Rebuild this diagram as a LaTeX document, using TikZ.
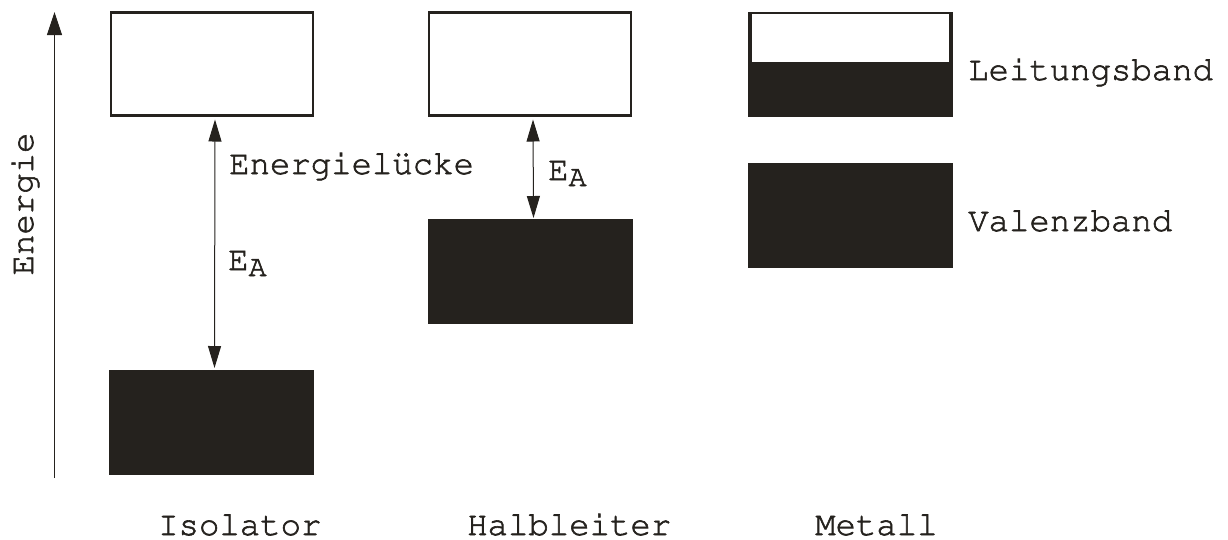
\documentclass[tikz,border=0pt]{standalone}
\usepackage[T1]{fontenc}
\usepackage{courier}
\usetikzlibrary{arrows.meta}
\definecolor{ink}{RGB}{37,34,30}
% slightly heavier glyphs: fill and stroke the outlines
\newcommand{\heavy}[1]{\special{pdf:literal 2 Tr 0.6 w}#1\special{pdf:literal 0 Tr}}
\begin{document}
\begin{tikzpicture}[x=1pt,y=-1pt,
  band/.style={draw=ink, line width=2.2pt, minimum width=202pt, minimum height=103pt,
    inner sep=0pt, outer sep=0pt},
  empty/.style={band, fill=white},
  full/.style={band, fill=ink, line width=0.6pt, minimum width=204pt, minimum height=104pt},
  lbl/.style={font=\ttfamily\fontsize{34}{40}\selectfont, text=ink, inner sep=0pt, anchor=base west},
  gap/.style={{Triangle[length=22pt,width=13pt]}-{Triangle[length=22pt,width=13pt]},
    line width=1pt, draw=ink}]
\useasboundingbox (0,0) rectangle (1228,539);
\newcommand{\sub}[1]{\raisebox{-6pt}{\fontsize{30}{34}\selectfont #1}}

% energy axis
\coordinate (ax0) at (54.5,478);
\coordinate (ax1) at (54.5,12);
\draw[ink, line width=1pt, -{Triangle[length=23pt,width=15pt]}] (ax0) -- (ax1);
\node[lbl, anchor=base, rotate=90] (energie) at (33,204) {\heavy{Energie}};

% insulator
\node[empty] (itop) at (212,64) {};
\node[full]  (ibot) at (211.5,422) {};
\draw[gap] ([xshift=3pt,yshift=-4pt]itop.south) -- ([xshift=3pt,yshift=2pt]ibot.north);
\node[lbl] (gaplbl) at (229,174) {\heavy{Energielücke}};
\node[lbl] (iea) at (228,270) {\heavy{E\sub{A}}};
\node[lbl] (iname) at (158,535) {\heavy{Isolator}};

% semiconductor
\node[empty] (htop) at (530,64) {};
\node[full]  (hbot) at (530.5,271) {};
\draw[gap] ([xshift=3pt,yshift=-4pt]htop.south) -- ([xshift=3pt,yshift=1pt]hbot.north);
\node[lbl] (hea) at (548,180) {\heavy{E\sub{A}}};
\node[lbl] (hname) at (467,535) {\heavy{Halbleiter}};

% metal
\node[full] (mtop) at (850.5,64) {};
\node[fill=white, inner sep=0pt, minimum width=197pt, minimum height=48pt, anchor=north]
  (mempty) at ([yshift=-2pt]mtop.north) {};
\node[full] (mbot) at (850.5,215) {};
\node[lbl] (cb) at (968,80) {\heavy{Leitungsband}};
\node[lbl] (vb) at (968,231) {\heavy{Valenzband}};
\node[lbl] (mname) at (815,535) {\heavy{Metall}};
\end{tikzpicture}
\end{document}
